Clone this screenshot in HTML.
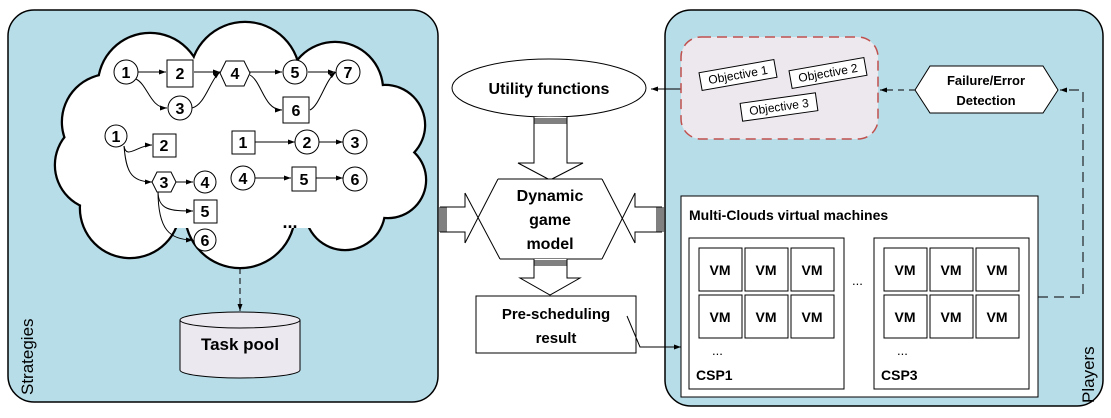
<!DOCTYPE html>
<html><head><meta charset="utf-8"><style>
html,body{margin:0;padding:0;background:#fff;}
svg{display:block;}
text{font-family:"Liberation Sans",sans-serif;}
.b{font-weight:bold;}
</style></head><body>
<svg width="1111" height="418" viewBox="0 0 1111 418" xmlns="http://www.w3.org/2000/svg">
<defs>
<marker id="ar" markerWidth="8" markerHeight="8" refX="7" refY="4" orient="auto" markerUnits="userSpaceOnUse">
<path d="M0,1.5 L7,4 L0,6.5 Z" fill="#000"/></marker>
</defs>
<!-- panels -->
<rect x="8" y="10" width="430" height="392" rx="26" fill="#b7dde8" stroke="#000" stroke-width="1.5"/>
<rect x="665" y="10" width="438" height="396" rx="26" fill="#b7dde8" stroke="#000" stroke-width="1.5"/>

<!-- cloud -->
<g stroke="#000" stroke-width="2.5" fill="#000">
<circle cx="150" cy="85" r="52"/><circle cx="245" cy="77" r="55"/><circle cx="335" cy="90" r="48"/>
<circle cx="385" cy="125" r="40"/><circle cx="388" cy="180" r="38"/><circle cx="345" cy="210" r="40"/>
<circle cx="240" cy="213" r="55"/><circle cx="130" cy="208" r="50"/><circle cx="100" cy="165" r="45"/>
<circle cx="110" cy="122" r="48"/>
</g>
<g fill="#fff">
<circle cx="150" cy="85" r="51"/><circle cx="245" cy="77" r="54"/><circle cx="335" cy="90" r="47"/>
<circle cx="385" cy="125" r="39"/><circle cx="388" cy="180" r="37"/><circle cx="345" cy="210" r="39"/>
<circle cx="240" cy="213" r="54"/><circle cx="130" cy="208" r="49"/><circle cx="100" cy="165" r="44"/>
<circle cx="110" cy="122" r="47"/>
<rect x="100" y="90" width="275" height="138"/>
</g>

<!-- graph edges -->
<g stroke="#000" stroke-width="1" fill="none" marker-end="url(#ar)">
<line x1="138" y1="72" x2="166" y2="72"/>
<path d="M136,79 C148,85 150,108 167,108"/>
<line x1="194" y1="72" x2="220" y2="72"/>
<path d="M192,108 C205,105 210,80 220,72"/>
<line x1="250" y1="72" x2="282" y2="72"/>
<path d="M250,75 C262,82 264,110 282,110"/>
<line x1="308" y1="72" x2="335" y2="72"/>
<path d="M310,110 C320,105 325,80 336,72"/>
<path d="M124,146 C126,160 138,145 152,145"/>
<path d="M124,146 C126,170 130,182 152,182"/>
<line x1="174" y1="182" x2="193" y2="182"/>
<path d="M158,191 C158,210 170,211 193,211"/>
<path d="M158,191 C158,230 170,240 193,240"/>
<line x1="255" y1="142" x2="295" y2="142"/>
<line x1="319" y1="142" x2="343" y2="142"/>
<line x1="255" y1="178" x2="291" y2="178"/>
<line x1="315" y1="178" x2="343" y2="178"/>
</g>
<!-- graph nodes -->
<g stroke="#000" stroke-width="1" fill="#fff">
<circle cx="126" cy="72" r="12"/><rect x="167" y="60" width="26" height="27"/>
<polygon points="220,73 226,61 244,61 250,73 244,86 226,86"/>
<circle cx="295" cy="72" r="12"/><circle cx="348" cy="72" r="12"/>
<circle cx="180" cy="108" r="12"/><rect x="283" y="97" width="26" height="26"/>
<circle cx="116" cy="136" r="11"/><rect x="153" y="134" width="23" height="23"/>
<polygon points="152,182 157,172 171,172 176,182 171,192 157,192"/>
<circle cx="205" cy="182" r="11"/><rect x="194" y="200" width="23" height="23"/>
<circle cx="205" cy="240" r="11"/>
<rect x="232" y="131" width="23" height="23"/><circle cx="307" cy="142" r="12"/><circle cx="355" cy="142" r="12"/>
<circle cx="243" cy="178" r="12"/><rect x="292" y="167" width="24" height="24"/><circle cx="355" cy="179" r="12"/>
</g>
<g class="b" font-size="16" text-anchor="middle" fill="#000">
<text x="126" y="78">1</text><text x="180" y="79">2</text><text x="235" y="79">4</text><text x="295" y="78">5</text><text x="348" y="78">7</text>
<text x="180" y="114">3</text><text x="296" y="116">6</text>
<text x="116" y="142">1</text><text x="164" y="151">2</text><text x="164" y="188">3</text><text x="205" y="188">4</text><text x="205" y="217">5</text><text x="205" y="246">6</text>
<text x="243" y="148">1</text><text x="307" y="148">2</text><text x="355" y="148">3</text>
<text x="243" y="184">4</text><text x="304" y="185">5</text><text x="355" y="185">6</text>
<text x="290" y="228" font-size="18">...</text>
</g>

<!-- cloud to task pool -->
<line x1="240" y1="268" x2="240" y2="311" stroke="#000" stroke-dasharray="6,4" marker-end="url(#ar)"/>
<path d="M180,320 L180,370 A60,8 0 0 0 300,370 L300,320" fill="#ebe8f0" stroke="#000"/>
<ellipse cx="240" cy="320" rx="60" ry="8" fill="#ebe8f0" stroke="#000"/>
<text x="240" y="350" class="b" font-size="17" text-anchor="middle">Task pool</text>
<text transform="translate(33,395) rotate(-90)" font-size="17">Strategies</text>
<text transform="translate(1094,403) rotate(-90)" font-size="17">Players</text>

<!-- utility -->
<ellipse cx="549" cy="88" rx="97" ry="29" fill="#fff" stroke="#000"/>
<text x="549" y="94" class="b" font-size="16" text-anchor="middle">Utility functions</text>
<line x1="681" y1="89" x2="651" y2="89" stroke="#000" marker-end="url(#ar)"/>

<!-- down arrow 1 -->
<g stroke="#000" stroke-width="1" fill="#fff">
<path d="M534,117 L534,163 L518,163 L550,180 L583,163 L567,163 L567,117"/>
<line x1="534" y1="119" x2="567" y2="119"/><line x1="534" y1="121" x2="567" y2="121"/><line x1="534" y1="123" x2="567" y2="123"/>
</g>
<!-- hex -->
<polygon points="498,179 602,179 620,219 602,259 500,259 480,219" fill="#fff" stroke="none"/>
<g stroke="#000" stroke-width="1" fill="none">
<line x1="498" y1="179" x2="602" y2="179"/><line x1="500" y1="259" x2="602" y2="259"/>
<line x1="498" y1="179" x2="465" y2="243"/><line x1="465" y1="193" x2="500" y2="259"/>
<line x1="602" y1="179" x2="635" y2="243"/><line x1="635" y1="193" x2="602" y2="259"/>
<path d="M465,193 L465,207 L440,207 M440,232 L465,232 L465,243"/>
<line x1="440" y1="207" x2="440" y2="232"/><line x1="442" y1="207" x2="442" y2="232"/><line x1="444" y1="207" x2="444" y2="232"/><line x1="446" y1="207" x2="446" y2="232"/>
<path d="M635,193 L635,207 L662,207 M662,232 L635,232 L635,243"/>
<line x1="657" y1="207" x2="657" y2="232"/><line x1="659" y1="207" x2="659" y2="232"/><line x1="661" y1="207" x2="661" y2="232"/><line x1="663" y1="207" x2="663" y2="232"/>
</g>
<polygon points="447,208 465,208 465,231 447,231" fill="#fff"/>
<polygon points="635,208 656,208 656,231 635,231" fill="#fff"/>
<g class="b" font-size="16" text-anchor="middle">
<text x="550" y="201">Dynamic</text><text x="550" y="225">game</text><text x="550" y="249">model</text>
</g>
<!-- down arrow 2 -->
<g stroke="#000" stroke-width="1" fill="#fff">
<path d="M534,259 L534,278 L520,278 L550,295 L580,278 L567,278 L567,259"/>
<line x1="534" y1="261" x2="567" y2="261"/><line x1="534" y1="263" x2="567" y2="263"/><line x1="534" y1="265" x2="567" y2="265"/>
</g>
<rect x="476" y="296" width="160" height="57" fill="#fff" stroke="#000"/>
<g class="b" font-size="15" text-anchor="middle">
<text x="556" y="319">Pre-scheduling</text><text x="556" y="343">result</text>
</g>
<path d="M627,316 L640,347 L681,347" fill="none" stroke="#000" marker-end="url(#ar)"/>

<!-- objectives -->
<rect x="681" y="37" width="197" height="102" rx="20" fill="#ece8ee" stroke="#c0504d" stroke-width="1.5" stroke-dasharray="10,6"/>
<g font-size="12" text-anchor="middle">
<g transform="translate(738,75) rotate(-10)"><rect x="-38" y="-9" width="76" height="18" fill="#fff" stroke="#000"/><text y="4">Objective 1</text></g>
<g transform="translate(828,73) rotate(-10)"><rect x="-38" y="-9" width="76" height="18" fill="#fff" stroke="#000"/><text y="4">Objective 2</text></g>
<g transform="translate(779,107) rotate(-8)"><rect x="-38" y="-9" width="76" height="18" fill="#fff" stroke="#000"/><text y="4">Objective 3</text></g>
</g>
<polygon points="915,90 930,66 1043,66 1058,90 1043,113 930,113" fill="#fff" stroke="#000"/>
<g class="b" font-size="13" text-anchor="middle"><text x="986" y="85">Failure/Error</text><text x="986" y="105">Detection</text></g>
<line x1="915" y1="90" x2="880" y2="90" stroke="#000" stroke-dasharray="6,5" marker-end="url(#ar)"/>
<path d="M1038,297 L1083,297 L1083,90 L1060,90" fill="none" stroke="#000" stroke-dasharray="10,6" marker-end="url(#ar)"/>

<!-- multi clouds -->
<rect x="681" y="196" width="357" height="201" fill="#fff" stroke="#000"/>
<text x="689" y="220" class="b" font-size="14">Multi-Clouds virtual machines</text>
<rect x="689" y="238" width="155" height="151" fill="#fff" stroke="#000"/>
<rect x="874" y="238" width="155" height="151" fill="#fff" stroke="#000"/>
<g stroke="#000" fill="#fff">
<rect x="699" y="248" width="43" height="43"/><rect x="745" y="248" width="43" height="43"/><rect x="791" y="248" width="43" height="43"/>
<rect x="699" y="295" width="43" height="43"/><rect x="745" y="295" width="43" height="43"/><rect x="791" y="295" width="43" height="43"/>
<rect x="884" y="248" width="43" height="43"/><rect x="930" y="248" width="43" height="43"/><rect x="976" y="248" width="43" height="43"/>
<rect x="884" y="295" width="43" height="43"/><rect x="930" y="295" width="43" height="43"/><rect x="976" y="295" width="43" height="43"/>
</g>
<g class="b" font-size="14" text-anchor="middle">
<text x="720" y="275">VM</text><text x="766" y="275">VM</text><text x="812" y="275">VM</text>
<text x="720" y="322">VM</text><text x="766" y="322">VM</text><text x="812" y="322">VM</text>
<text x="905" y="275">VM</text><text x="951" y="275">VM</text><text x="997" y="275">VM</text>
<text x="905" y="322">VM</text><text x="951" y="322">VM</text><text x="997" y="322">VM</text>
</g>
<g font-size="13"><text x="712" y="355">...</text><text x="897" y="355">...</text><text x="852" y="285">...</text></g>
<g class="b" font-size="14"><text x="696" y="380">CSP1</text><text x="881" y="380">CSP3</text></g>
</svg>
</body></html>
